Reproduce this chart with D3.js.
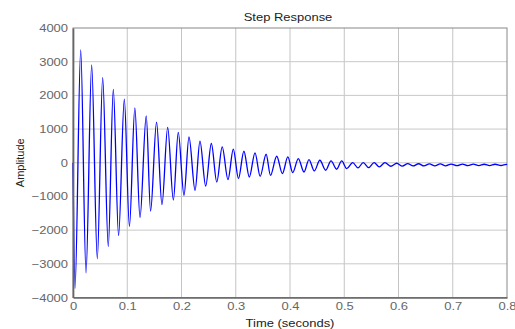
<!DOCTYPE html>
<html>
<head>
<meta charset="utf-8">
<script src="https://cdn.jsdelivr.net/npm/d3@7"></script>
<style>
  body { margin: 0; background: #fff; }
  svg { display: block; }
  text { font-family: 'Liberation Sans', Arial, sans-serif; }
</style>
</head>
<body>
<svg id="chart"></svg>
<script>
// extrema of the response (time in s, amplitude)
const times = [0, 0.0037, 0.0142, 0.024, 0.0344, 0.0448, 0.0547, 0.065, 0.0743, 0.084,
  0.0946, 0.104, 0.114, 0.1235, 0.135, 0.143, 0.154, 0.164, 0.1745, 0.185,
  0.194, 0.2046, 0.2138, 0.225, 0.234, 0.2446, 0.255, 0.265, 0.275, 0.2857,
  0.2955, 0.305, 0.315, 0.325, 0.3355, 0.345, 0.356, 0.364, 0.3755, 0.386,
  0.396, 0.405, 0.4153, 0.4258, 0.435, 0.4448, 0.455, 0.4658, 0.4756, 0.486,
  0.4953, 0.5045, 0.5156, 0.5253, 0.535, 0.545, 0.555, 0.5646, 0.575, 0.586,
  0.5967, 0.607, 0.617, 0.627, 0.637, 0.647, 0.657, 0.667, 0.677, 0.687,
  0.697, 0.708, 0.718, 0.728, 0.738, 0.748, 0.758, 0.768, 0.778, 0.789,
  0.799, 0.8]
const amplitudes = [0, -3730, 3348, -3268, 2902, -2851, 2524, -2485, 2178, -2158,
  1890, -1890, 1631, -1631, 1393, -1434, 1205, -1244, 1048, -1105,
  899, -967, 768, -818, 640, -690, 571, -571, 470, -500,
  402, -470, 342, -423, 292, -402, 253, -372, 193, -321,
  173, -292, 125, -274, 95, -244, 74, -223, 54, -193,
  54, -173, 6, -155, 6, -143, 6, -125, 6, -104,
  -15, -100, -25, -95, -30, -95, -35, -90, -35, -90,
  -40, -88, -40, -88, -42, -85, -45, -85, -45, -82,
  -48, -60]
const xTicks = [0, 0.1, 0.2, 0.3, 0.4, 0.5, 0.6, 0.7, 0.8]
const yTicks = [-4000, -3000, -2000, -1000, 0, 1000, 2000, 3000, 4000]

const width = 515, height = 329
const margin = {top: 28, right: 8, bottom: 31.5, left: 73}
const stretch = 1.18 // text in the reference is a bit wider than tall

const svg = d3.select('#chart').attr('width', width).attr('height', height)

const x = d3.scaleLinear().domain([0, 0.8]).range([margin.left, width - margin.right])
const y = d3.scaleLinear().domain([-4000, 4000]).range([height - margin.bottom, margin.top])

// grid
svg.append('g')
  .selectAll('line.v')
  .data(xTicks.slice(1, -1))
  .join('line')
  .attr('x1', d => x(d)).attr('x2', d => x(d))
  .attr('y1', margin.top).attr('y2', height - margin.bottom)
  .attr('stroke', '#c4c4c4').attr('stroke-width', 1)
svg.append('g')
  .selectAll('line.h')
  .data(yTicks.slice(1, -1))
  .join('line')
  .attr('x1', margin.left).attr('x2', width - margin.right)
  .attr('y1', d => y(d)).attr('y2', d => y(d))
  .attr('stroke', '#c8c8c8').attr('stroke-width', 1)

// box
svg.append('rect')
  .attr('x', margin.left).attr('y', margin.top)
  .attr('width', width - margin.left - margin.right)
  .attr('height', height - margin.top - margin.bottom)
  .attr('fill', 'none').attr('stroke', '#888').attr('stroke-width', 1)

// response
const line = d3.line()
  .x(i => x(times[i]))
  .y(i => y(amplitudes[i]))
  .curve(d3.curveMonotoneX)
svg.append('path')
  .datum(d3.range(times.length))
  .attr('fill', 'none')
  .attr('stroke', '#0000ff')
  .attr('stroke-width', 1.3)
  .attr('d', line)

// axes
const xAxis = svg.append('g')
  .attr('transform', `translate(0,${height - margin.bottom})`)
  .call(d3.axisBottom(x).tickValues(xTicks).tickSize(0).tickPadding(5).tickFormat(d3.format('')))
const yAxis = svg.append('g')
  .attr('transform', `translate(${margin.left},0)`)
  .call(d3.axisLeft(y).tickValues(yTicks).tickSize(0).tickPadding(5).tickFormat(d3.format('')))

for (const g of [xAxis, yAxis]) {
  g.select('.domain').attr('stroke', '#666').attr('stroke-width', 1.7)
  g.selectAll('text')
    .attr('fill', '#666')
    .attr('font-size', 11)
    .attr('font-family', "'Liberation Sans', Arial, sans-serif")
}
xAxis.selectAll('text').attr('transform', `scale(${stretch},1)`)
yAxis.selectAll('text')
  .attr('x', -5 / stretch)
  .attr('transform', `scale(${stretch},1)`)

// labels
const cx = (margin.left + width - margin.right) / 2
svg.append('text')
  .attr('transform', `translate(${cx - 2},21) scale(${stretch},1)`)
  .attr('text-anchor', 'middle')
  .attr('font-size', 11)
  .attr('fill', '#222')
  .text('Step Response')
svg.append('text')
  .attr('transform', `translate(${cx},327) scale(${stretch},1)`)
  .attr('text-anchor', 'middle')
  .attr('font-size', 11)
  .attr('fill', '#222')
  .text('Time (seconds)')
svg.append('text')
  .attr('transform', `translate(24,${(margin.top + height - margin.bottom) / 2}) rotate(-90)`)
  .attr('text-anchor', 'middle')
  .attr('font-size', 11)
  .attr('fill', '#222')
  .text('Amplitude')
</script>
</body>
</html>
